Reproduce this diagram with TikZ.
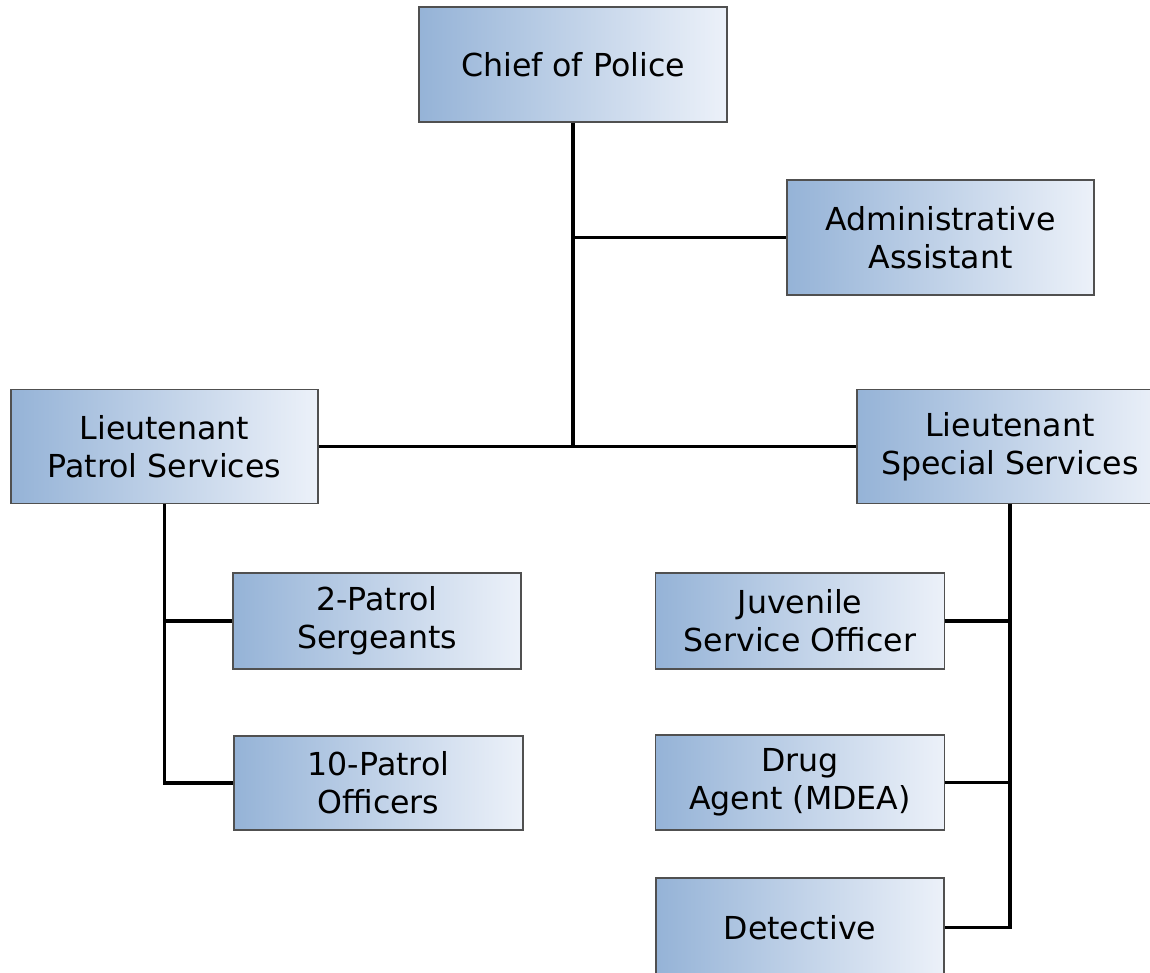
\documentclass[tikz,border=0pt]{standalone}
\usepackage{fontspec}
\setmainfont{DejaVu Sans}
\definecolor{boxleft}{RGB}{149,179,215}
\definecolor{boxright}{RGB}{236,241,249}
\definecolor{boxedge}{RGB}{80,80,80}
\tikzset{
  orgbox/.style={draw=boxedge, line width=0.6pt, left color=boxleft, right color=boxright,
    inner sep=0pt, align=center, font=\fontsize{18pt}{21.6pt}\selectfont},
  link/.style={draw=black, line width=2.1pt}
}
\begin{document}
\begin{tikzpicture}[x=0.02cm, y=-0.02cm]
\clip (0,0) rectangle (1150,973);
\fill[white] (0,0) rectangle (1150,973);
\node[orgbox, minimum width=308*0.02cm, minimum height=115*0.02cm] (chief) at (573,64.5) {Chief of Police};
\node[orgbox, minimum width=307*0.02cm, minimum height=115*0.02cm] (admin) at (940.5,237.5) {Administrative\\Assistant};
\node[orgbox, minimum width=307*0.02cm, minimum height=114*0.02cm] (ltp) at (164.5,446.5) {Lieutenant\\Patrol Services};
\node[orgbox, minimum width=306*0.02cm, minimum height=114*0.02cm] (lts) at (1010,446.5) {Lieutenant\\Special Services};
\node[orgbox, minimum width=288*0.02cm, minimum height=96*0.02cm] (sgt) at (377,621) {2-Patrol\\Sergeants};
\node[orgbox, minimum width=289*0.02cm, minimum height=94*0.02cm] (off) at (378.5,783) {10-Patrol\\Officers};
\node[orgbox, minimum width=289*0.02cm, minimum height=96*0.02cm] (juv) at (800,621) {Juvenile\\Service Officer};
\node[orgbox, minimum width=289*0.02cm, minimum height=95*0.02cm] (drug) at (800,782.5) {Drug\\Agent (MDEA)};
\node[orgbox, minimum width=288*0.02cm, minimum height=99*0.02cm] (det) at (800,927.5) {Detective};
% connectors
\draw[link] (chief.south) -- (chief.south |- ltp.east);
\draw[link] (chief.south |- admin.west) -- (admin.west);
\draw[link] (ltp.east) -- (lts.west);
\draw[link] (ltp.south) -- (ltp.south |- off.west) -- (off.west);
\draw[link] (ltp.south |- sgt.west) -- (sgt.west);
\draw[link] (lts.south) -- (lts.south |- det.east) -- (det.east);
\draw[link] (lts.south |- juv.east) -- (juv.east);
\draw[link] (lts.south |- drug.east) -- (drug.east);
\end{tikzpicture}
\end{document}
